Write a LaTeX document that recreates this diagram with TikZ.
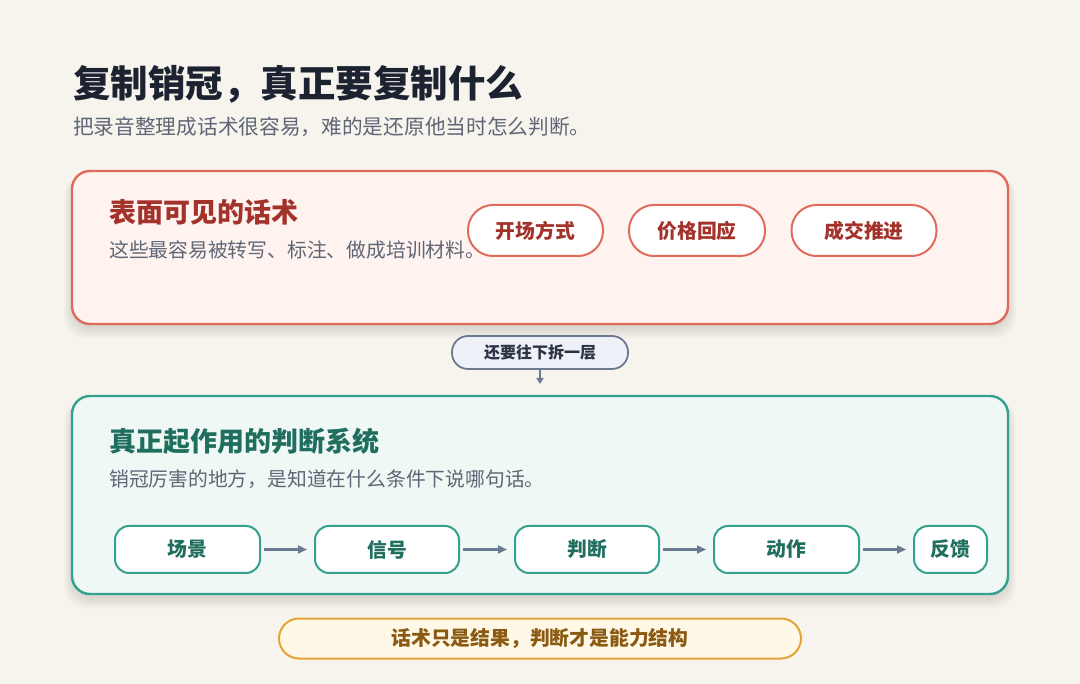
\documentclass[tikz,border=0pt]{standalone}
\usepackage{fontspec}
\setmainfont{Noto Sans CJK SC}
\usetikzlibrary{arrows.meta}
\definecolor{bg}{HTML}{F7F4EE}
\definecolor{ink}{HTML}{1C2230}
\definecolor{subgray}{HTML}{5F6675}
\definecolor{redline}{HTML}{E06A5C}
\definecolor{redfill}{HTML}{FFF3EF}
\definecolor{redtext}{HTML}{A3322B}
\definecolor{slate}{HTML}{6B7A90}
\definecolor{slatefill}{HTML}{EEF2F8}
\definecolor{slatetext}{HTML}{2C3342}
\definecolor{tealline}{HTML}{35A08D}
\definecolor{tealfill}{HTML}{EFF8F5}
\definecolor{tealtext}{HTML}{1F6E5E}
\definecolor{goldline}{HTML}{E3A335}
\definecolor{goldfill}{HTML}{FFF8E6}
\definecolor{goldtext}{HTML}{8A5A12}
\tikzset{
  panel/.style={draw, line width=2.4pt, rounded corners=18pt, inner sep=0pt},
  redpanel/.style={panel, draw=redline, fill=redfill},
  tealpanel/.style={panel, draw=tealline, fill=tealfill},
  shadowlayer/.style={fill=black, opacity=0.011, rounded corners=22pt},
  titletext/.style={anchor=base west, inner sep=0pt, font=\fontsize{27}{31}\selectfont\bfseries},
  subtext/.style={anchor=base west, inner sep=0pt, text=subgray, font=\fontsize{19.8}{23}\selectfont},
  redpill/.style={draw=redline, line width=2pt, fill=white, rounded corners=25pt, inner sep=0pt,
    minimum height=51pt, text=redtext, font=\fontsize{19.8}{23}\selectfont\bfseries},
  flowbox/.style={draw=tealline, line width=2pt, fill=white, rounded corners=14pt, inner sep=0pt,
    minimum height=47pt, text=tealtext, font=\fontsize{19.8}{23}\selectfont\bfseries},
  flowarrow/.style={draw=slate, line width=2.5pt, -{Triangle[length=9pt,width=8pt]},
    shorten <=3pt, shorten >=7pt}
}
\begin{document}
\begin{tikzpicture}[x=1pt,y=-1pt]
\useasboundingbox (0,0) rectangle (1080,684);
\fill[bg] (0,0) rectangle (1080,684);

% soft shadows under the two panels
\foreach \s in {0,...,9} {
  \fill[shadowlayer] (72-\s*0.9, 171+4) rectangle (1008+\s*0.9, 324+4+\s*1.2);
  \fill[shadowlayer] (72-\s*0.9, 396+4) rectangle (1008+\s*0.9, 594+4+\s*1.2);
}

% heading
\node[anchor=base west, inner sep=0pt, text=ink, font=\fontsize{37.5}{42}\selectfont\bfseries] (title) at (73,97.5) {复制销冠，真正要复制什么};
\node[anchor=base west, inner sep=0pt, text=subgray, font=\fontsize{20.7}{24}\selectfont] (subtitle) at (73,135) {把录音整理成话术很容易，难的是还原他当时怎么判断。};

% top panel
\node[redpanel, minimum width=936pt, minimum height=153pt] (toppanel) at (540,247.5) {};
\node[titletext, text=redtext] (toptitle) at (109,222.5) {表面可见的话术};
\node[subtext] (topsub) at (109,257.5) {这些最容易被转写、标注、做成培训材料。};
\node[redpill, minimum width=135pt] (p1) at (535.5,230.5) {开场方式};
\node[redpill, minimum width=136pt] (p2) at (697,230.5) {价格回应};
\node[redpill, minimum width=145pt] (p3) at (864,230.5) {成交推进};

% connector
\node[draw=slate, line width=1.8pt, fill=slatefill, rounded corners=16pt, inner sep=0pt,
  minimum width=176pt, minimum height=33pt, text=slatetext,
  font=\fontsize{16}{19}\selectfont\bfseries] (conn) at (540,352.5) {还要往下拆一层};
\coordinate (connend) at (540,384);

% bottom panel
\node[tealpanel, minimum width=936pt, minimum height=198pt] (botpanel) at (540,495) {};
\node[titletext, text=tealtext] (bottitle) at (109,451.5) {真正起作用的判断系统};
\node[subtext] (botsub) at (109,486.5) {销冠厉害的地方，是知道在什么条件下说哪句话。};

\draw[draw=slate, line width=2pt, -{Triangle[length=6pt,width=7pt]}] (conn.south) -- (connend);

\node[flowbox, minimum width=145pt] (f1) at (187.5,549.5) {场景};
\node[flowbox, minimum width=144pt] (f2) at (387,549.5) {信号};
\node[flowbox, minimum width=144pt] (f3) at (587,549.5) {判断};
\node[flowbox, minimum width=145pt] (f4) at (786.5,549.5) {动作};
\node[flowbox, minimum width=73pt] (f5) at (950.5,549.5) {反馈};
\draw[flowarrow] (f1) -- (f2);
\draw[flowarrow] (f2) -- (f3);
\draw[flowarrow] (f3) -- (f4);
\draw[flowarrow] (f4) -- (f5);

% footer
\node[draw=goldline, line width=2pt, fill=goldfill, rounded corners=20pt, inner sep=0pt,
  minimum width=522pt, minimum height=40pt, text=goldtext,
  font=\fontsize{19.8}{23}\selectfont\bfseries] (foot) at (540,638.5) {话术只是结果，判断才是能力结构};
\end{tikzpicture}
\end{document}
